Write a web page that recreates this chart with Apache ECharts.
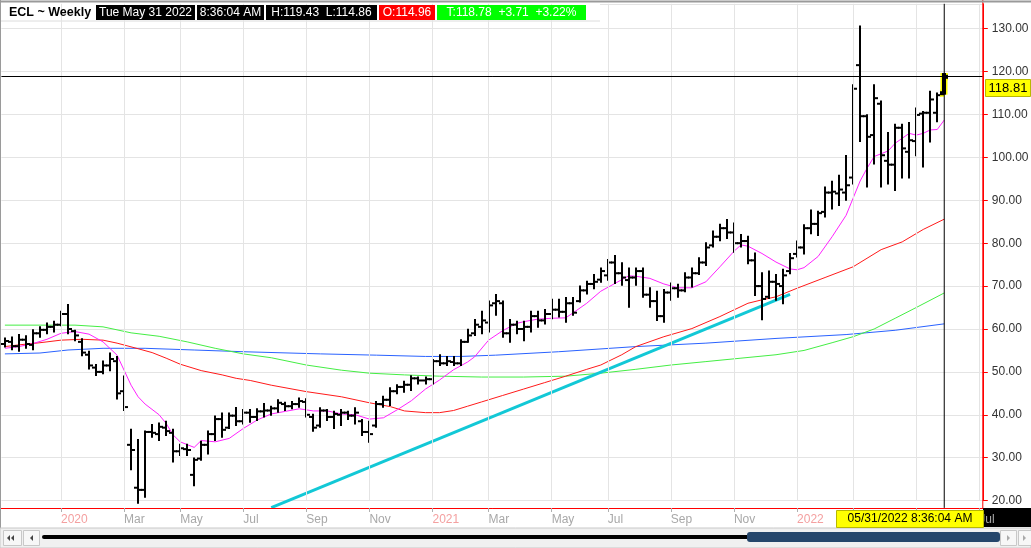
<!DOCTYPE html>
<html>
<head>
<meta charset="utf-8">
<script src="https://cdn.jsdelivr.net/npm/echarts@6/dist/echarts.min.js"></script>
<style>
  html, body { margin: 0; padding: 0; background: #fff; }
  #chart { width: 1031px; height: 548px; }
</style>
</head>
<body>
<div id="chart"></div>
<script>
// weekly bars, Friday dates (last trading day of the week); future slots run on from the last bar date
const firstWeek = '2019-11-08';
const lastBarDate = '2022-05-31';
const weekCount = 140;
const holidays = {
  '2020-04-10': '2020-04-09', '2020-07-03': '2020-07-02', '2021-01-01': '2020-12-31',
  '2021-04-02': '2021-04-01', '2022-04-15': '2022-04-14'
};

const opens = [56.5, 57.0, 56.0, 57.5, 56.3, 59.0, 59.8, 60.5, 61.0, 63.5,
  59.5, 57.0, 54.0, 51.0, 50.0, 51.5, 52.5, 45.5, 33.0, 23.0,
  22.5, 36.0, 35.5, 37.0, 35.8, 31.5, 32.0, 26.0, 29.8, 33.0,
  35.5, 39.0, 37.0, 39.8, 38.5, 40.5, 39.5, 40.8, 41.0, 41.5,
  42.5, 42.0, 42.5, 43.0, 39.5, 37.5, 41.0, 39.5, 40.0, 40.5,
  39.8, 38.5, 36.0, 37.5, 42.5, 43.5, 45.5, 46.5, 47.0, 48.5,
  48.0, 48.3, 52.5, 52.0, 52.3, 52.0, 57.0, 59.0, 60.5, 61.5,
  66.0, 66.0, 59.0, 61.0, 60.0, 60.5, 63.0, 62.0, 63.5, 64.5,
  64.0, 66.0, 66.5, 69.0, 70.5, 71.5, 72.5, 75.5, 73.0, 71.4,
  72.0, 73.5, 68.0, 66.5, 63.0, 68.5, 69.5, 69.0, 72.0, 73.0,
  75.5, 79.5, 81.5, 83.5, 82.5, 80.0, 80.5, 76.0, 70.0, 67.5,
  71.0, 70.0, 73.5, 77.5, 79.0, 83.5, 84.5, 87.3, 91.8, 91.6,
  91.8, 95.3, 121.5, 109.6, 105.2, 112.5, 99.2, 98.3, 106.9, 101.3,
  103.8, 110.2, 110.4, 110.4, 114.96];
const highs = [57.8, 58.0, 58.6, 58.3, 59.7, 60.4, 61.3, 61.7, 64.0, 65.6,
  59.6, 57.6, 54.7, 51.6, 52.4, 54.3, 53.5, 48.9, 36.5, 34.1,
  36.1, 37.6, 38.0, 38.4, 36.5, 33.0, 33.0, 29.8, 33.7, 36.1,
  39.6, 40.3, 40.3, 41.6, 41.1, 41.1, 41.3, 42.5, 41.9, 43.4,
  42.8, 43.0, 43.8, 43.6, 40.0, 41.5, 41.1, 40.7, 41.1, 40.7,
  41.5, 38.8, 38.4, 43.0, 44.2, 46.2, 46.9, 47.7, 49.0, 48.7,
  48.7, 52.8, 53.9, 53.5, 53.5, 57.4, 59.8, 62.1, 64.0, 66.4,
  67.9, 66.4, 62.1, 61.7, 61.7, 64.0, 64.0, 64.4, 66.8, 66.8,
  67.2, 67.2, 69.9, 71.0, 72.6, 74.1, 76.1, 77.0, 75.3, 74.1,
  74.1, 74.1, 69.5, 68.7, 69.1, 70.6, 70.3, 73.0, 74.1, 76.5,
  80.0, 82.7, 84.3, 85.4, 84.6, 81.9, 81.5, 77.6, 73.0, 73.4,
  72.6, 73.8, 77.5, 80.4, 84.2, 87.6, 87.3, 93.0, 94.3, 95.7,
  100.3, 116.8, 130.5, 109.8, 116.8, 113.0, 105.7, 107.6, 107.6, 108.0,
  111.4, 110.6, 115.3, 114.9, 119.43];
const lows = [55.9, 55.3, 54.9, 55.6, 55.3, 58.2, 59.0, 59.4, 60.9, 59.0,
  57.4, 53.9, 50.8, 49.3, 49.7, 50.4, 43.8, 41.1, 27.3, 19.5,
  20.9, 34.9, 34.1, 35.3, 29.1, 30.6, 30.6, 23.6, 29.5, 31.0,
  34.1, 34.9, 36.9, 37.6, 38.0, 38.4, 38.8, 39.6, 40.0, 40.7,
  41.1, 41.5, 41.9, 39.6, 36.3, 37.2, 38.8, 36.9, 37.6, 39.0,
  38.0, 35.3, 33.7, 37.2, 41.9, 42.3, 45.0, 45.4, 45.8, 47.3,
  47.3, 47.3, 51.6, 51.6, 51.6, 51.6, 57.0, 58.6, 59.0, 59.4,
  63.3, 58.2, 57.0, 59.0, 57.4, 59.4, 60.5, 61.3, 62.5, 62.9,
  61.7, 63.3, 66.4, 68.3, 69.5, 71.0, 71.5, 70.7, 70.3, 65.2,
  70.3, 67.5, 65.2, 62.1, 61.7, 66.8, 67.5, 68.8, 69.9, 72.8,
  74.9, 79.2, 80.7, 81.2, 78.0, 79.2, 75.3, 67.9, 62.3, 67.2,
  66.8, 66.0, 73.0, 76.9, 77.6, 82.3, 81.9, 86.2, 88.1, 88.9,
  90.1, 93.9, 103.8, 93.2, 98.6, 93.2, 93.9, 92.4, 95.3, 95.3,
  100.5, 97.9, 103.7, 108.4, 114.86];
const closes = [57.2, 56.0, 57.5, 56.5, 59.0, 59.8, 60.5, 61.0, 63.5, 60.0,
  58.5, 54.5, 51.5, 50.0, 51.5, 53.0, 45.0, 41.8, 31.8, 22.5,
  36.0, 35.8, 37.2, 36.2, 31.5, 32.2, 31.8, 29.5, 33.0, 35.5,
  39.0, 36.5, 39.8, 38.5, 40.5, 39.5, 40.8, 41.0, 41.5, 42.8,
  42.0, 42.5, 43.2, 40.0, 37.0, 41.0, 39.5, 40.2, 40.5, 39.8,
  40.5, 36.0, 35.5, 42.5, 43.5, 45.5, 46.5, 47.0, 48.5, 48.0,
  48.3, 52.5, 52.0, 52.5, 52.0, 57.0, 58.5, 61.0, 62.0, 65.5,
  66.5, 59.0, 61.0, 60.0, 60.5, 63.0, 62.0, 63.5, 64.5, 64.0,
  66.0, 63.8, 69.0, 70.5, 71.0, 73.5, 75.5, 73.0, 72.0, 72.0,
  73.5, 68.0, 66.5, 63.0, 68.5, 69.5, 69.0, 72.0, 73.0, 75.5,
  79.0, 81.5, 83.5, 82.5, 80.0, 80.5, 76.0, 70.0, 67.0, 71.0,
  70.5, 72.5, 76.5, 79.0, 83.5, 84.5, 87.0, 91.8, 92.0, 92.5,
  93.5, 116.0, 109.6, 104.8, 113.8, 100.5, 98.3, 106.9, 102.1, 104.0,
  109.9, 110.4, 113.5, 114.5, 118.78];

// moving averages: [week index, value]
const maPink = [[0, 55.5], [2, 55.9], [4, 56.6], [6, 57.6], [8, 59.0], [10, 59.4], [12, 58.8],
  [14, 57.0], [16, 53.9], [17, 50.4], [18, 46.9], [19, 44.2], [20, 42.5], [22, 40.0], [23, 38.0],
  [24, 35.3], [25, 33.7], [27, 32.4], [28, 34.0], [30, 33.7], [32, 34.5], [34, 36.8], [36, 38.8],
  [38, 40.2], [40, 40.8], [42, 41.4], [44, 40.9], [46, 40.9], [48, 40.2], [50, 40.0], [52, 39.0],
  [54, 39.3], [56, 41.2], [58, 43.3], [60, 46.0], [62, 48.1], [64, 50.5], [66, 52.3], [67, 53.5],
  [69, 57.4], [71, 59.6], [73, 61.3], [74, 61.7], [76, 62.3], [78, 62.5], [80, 62.6], [81, 63.7],
  [83, 66.0], [85, 68.8], [87, 70.6], [89, 72.4], [90, 72.3], [92, 71.8], [94, 70.5], [96, 69.6],
  [98, 69.6], [100, 71.0], [102, 74.5], [104, 78.1], [105, 79.6], [106, 79.3], [108, 77.6],
  [110, 75.6], [112, 74.0], [113, 73.8], [114, 74.3], [116, 76.9], [118, 81.5], [120, 86.5],
  [121, 90.5], [122, 94.5], [123, 97.5], [124, 100.2], [126, 101.5], [127, 103.3], [129, 105.6],
  [130, 105.2], [131, 105.6], [132, 106.4], [133, 106.5], [134, 108.7]];
const maRed = [[0, 55.9], [2, 56.3], [5, 56.8], [8, 57.4], [11, 57.6], [14, 57.4], [16, 56.7],
  [19, 55.4], [21, 54.5], [23, 53.2], [25, 51.8], [28, 50.3], [31, 49.3], [33, 48.5], [35, 48.0],
  [38, 46.9], [43, 45.4], [48, 44.2], [52, 42.8], [55, 41.9], [57, 40.9], [60, 40.5], [62, 40.5],
  [64, 41.0], [66, 42.0], [68, 43.0], [71, 44.5], [74, 46.0], [77, 47.5], [80, 49.0], [83, 50.6],
  [85, 51.6], [88, 54.0], [90, 55.9], [94, 58.2], [98, 60.1], [102, 62.9], [106, 66.0],
  [108, 66.8], [110, 67.5], [113, 69.5], [117, 72.0], [121, 74.5], [125, 78.5], [128, 80.3],
  [131, 83.2], [134, 85.6]];
const maGreen = [[0, 60.9], [5, 60.9], [10, 60.9], [14, 60.5], [18, 59.1], [22, 58.3], [26, 57.0],
  [30, 55.5], [34, 54.2], [38, 53.3], [43, 51.6], [48, 50.4], [52, 49.7], [57, 49.3], [62, 49.0],
  [68, 48.8], [74, 48.8], [80, 49.0], [85, 49.7], [90, 50.6], [95, 51.6], [100, 52.4], [105, 53.2],
  [110, 54.0], [114, 55.0], [118, 56.8], [121, 58.2], [124, 60.0], [127, 62.5], [130, 65.0],
  [134, 68.4]];
const maBlue = [[0, 54.2], [5, 54.4], [9, 55.1], [14, 55.5], [20, 55.5], [27, 55.1], [34, 54.7],
  [45, 54.2], [53, 53.9], [60, 53.6], [65, 53.6], [70, 53.9], [79, 54.7], [90, 55.9], [100, 56.7],
  [110, 57.8], [120, 58.7], [127, 59.7], [134, 61.2]];
const trendLine = [[38, 18.34], [112, 68.07]];
const lastPrice = 118.81;
const yTicks = { min: 20, max: 135.8, step: 10 };

const header = [
  { text: 'Tue May 31 2022', x: 96, w: 99, fill: '#000' },
  { text: '8:36:04 AM', x: 197, w: 67, fill: '#000' },
  { text: 'H:119.43  L:114.86', x: 266, w: 111, fill: '#000' },
  { text: 'O:114.96', x: 379, w: 56, fill: '#ff0000' },
  { text: 'T:118.78  +3.71  +3.22%', x: 437, w: 149, fill: '#00ff00' }
];

const lastIdx = opens.length - 1;
const day = 864e5;
const weeks = [];
const t0 = Date.parse(firstWeek + 'T00:00:00Z');
const tLast = Date.parse(lastBarDate + 'T00:00:00Z');
for (let k = 0; k < weekCount; k++) {
  let d;
  if (k < lastIdx) {
    d = new Date(t0 + k * 7 * day).toISOString().slice(0, 10);
    d = holidays[d] || d;
  } else {
    d = new Date(tLast + (k - lastIdx) * 7 * day).toISOString().slice(0, 10);
  }
  weeks.push(d);
}
const monthOf = s => +s.slice(5, 7) - 1;
const showLabel = weeks.map((d, k) => k > 0 && monthOf(d) !== monthOf(weeks[k - 1]) && monthOf(d) % 2 === 0);
const monthNames = ['Jan', 'Feb', 'Mar', 'Apr', 'May', 'Jun', 'Jul', 'Aug', 'Sep', 'Oct', 'Nov', 'Dec'];
const labelInterval = idx => showLabel[idx];

const bars = opens.map((o, k) => [k, o, highs[k], lows[k], closes[k]]);

function renderBar(params, api) {
  const k = api.value(0);
  const h = api.coord([k, api.value(2)]);
  const l = api.coord([k, api.value(3)]);
  const o = api.coord([k, api.value(1)]);
  const c = api.coord([k, api.value(4)]);
  const x = Math.round(h[0]);
  const last = params.dataIndex === lastIdx;
  const lw = last ? 4 : 2;
  const parts = [
    { type: 'line', shape: { x1: x, y1: h[1] - 1, x2: x, y2: l[1] + 1 } },
    { type: 'line', shape: { x1: x - 4, y1: o[1], x2: x, y2: o[1] } },
    { type: 'line', shape: { x1: x, y1: c[1], x2: x + 4, y2: c[1] } }
  ];
  const children = [];
  if (last) {
    parts.forEach(p => children.push({ type: 'line', shape: p.shape, style: { stroke: '#ffff00', lineWidth: 7 } }));
  }
  parts.forEach(p => children.push({ type: 'line', shape: p.shape, style: { stroke: '#000', lineWidth: lw } }));
  return { type: 'group', children: children };
}

function maSeries(data, color) {
  return {
    type: 'line', data: data, symbol: 'none', silent: true, z: 2,
    lineStyle: { color: color, width: 1 }
  };
}

const font = 'Liberation Sans, Arial, sans-serif';
const graphics = [
  { type: 'rect', z: 1, shape: { x: 0, y: 0, width: 600, height: 21 }, style: { fill: '#fff' } },
  { type: 'line', z: 1, shape: { x1: 0, y1: 21, x2: 600, y2: 21 }, style: { stroke: '#dcdcdc', lineWidth: 1 } },
  { type: 'line', z: 20, shape: { x1: 0, y1: 1.5, x2: 1031, y2: 1.5 }, style: { stroke: '#9a9a9a', lineWidth: 2 } },
  { type: 'line', z: 20, shape: { x1: 0.5, y1: 0, x2: 0.5, y2: 528 }, style: { stroke: '#9a9a9a', lineWidth: 1 } },
  { type: 'line', z: 6, shape: { x1: 982.8, y1: 0, x2: 982.8, y2: 508 }, style: { stroke: '#ff0000', lineWidth: 1 } },
  { type: 'text', z: 20, left: 9, top: 6, style: { text: 'ECL ~ Weekly', font: 'bold 12.5px ' + font, fill: '#000' } },
  // bottom date box and corner
  { type: 'rect', z: 1, shape: { x: 983, y: 508, width: 48, height: 19 }, style: { fill: '#000' } },
  { type: 'rect', z: 30, shape: { x: 836.5, y: 510.5, width: 147, height: 17 }, style: { fill: '#ffff00', stroke: '#b8b800', lineWidth: 1 } },
  { type: 'text', z: 31, x: 910, y: 519, style: { text: '05/31/2022 8:36:04 AM', font: '12px ' + font, fill: '#000', align: 'center', verticalAlign: 'middle' } },
  // price label
  { type: 'rect', z: 30, shape: { x: 985.5, y: 79.5, width: 45, height: 17 }, style: { fill: '#ffff00', stroke: '#b8b800', lineWidth: 1 } },
  { type: 'text', z: 31, x: 1008, y: 88.5, style: { text: lastPrice.toFixed(2), font: '13px ' + font, fill: '#000', align: 'center', verticalAlign: 'middle' } },
  // scrollbar
  { type: 'rect', z: 20, shape: { x: 0, y: 528, width: 1031, height: 20 }, style: { fill: '#f0f0f0', stroke: '#c8c8c8', lineWidth: 1 } },
  { type: 'rect', z: 21, shape: { x: 3.5, y: 530.5, width: 18, height: 15 }, style: { fill: '#f7f7f7', stroke: '#c8c8c8' } },
  { type: 'rect', z: 21, shape: { x: 23.5, y: 530.5, width: 16, height: 15 }, style: { fill: '#f7f7f7', stroke: '#c8c8c8' } },
  { type: 'rect', z: 21, shape: { x: 1000.5, y: 530.5, width: 16, height: 15 }, style: { fill: '#f7f7f7', stroke: '#c8c8c8' } },
  { type: 'rect', z: 21, shape: { x: 1018.5, y: 530.5, width: 13, height: 15 }, style: { fill: '#f7f7f7', stroke: '#c8c8c8' } },
  { type: 'polygon', z: 22, shape: { points: [[10, 535], [10, 541], [7, 538]] }, style: { fill: '#444' } },
  { type: 'polygon', z: 22, shape: { points: [[14, 535], [14, 541], [11, 538]] }, style: { fill: '#444' } },
  { type: 'polygon', z: 22, shape: { points: [[33, 535], [33, 541], [30, 538]] }, style: { fill: '#444' } },
  { type: 'polygon', z: 22, shape: { points: [[1007, 535], [1007, 541], [1010, 538]] }, style: { fill: '#aaa' } },
  { type: 'polygon', z: 22, shape: { points: [[1023, 535], [1023, 541], [1026, 538]] }, style: { fill: '#aaa' } },
  { type: 'line', z: 21, shape: { x1: 44, y1: 537, x2: 760, y2: 537 }, style: { stroke: '#000', lineWidth: 4, lineCap: 'round' } },
  { type: 'rect', z: 22, shape: { x: 747, y: 532, width: 253, height: 10, r: 3 }, style: { fill: '#25466b' } }
];
header.forEach(b => {
  graphics.push({ type: 'rect', z: 20, shape: { x: b.x, y: 5, width: b.w, height: 15 }, style: { fill: b.fill } });
  graphics.push({ type: 'text', z: 21, x: b.x + b.w / 2, y: 12.8, style: { text: b.text, font: '12px ' + font, fill: '#fff', align: 'center', verticalAlign: 'middle' } });
});

const option = {
  animation: false,
  backgroundColor: '#fff',
  grid: { left: 1.4, right: 48.2, top: 3.8, bottom: 47.4, outerBoundsMode: 'none', containLabel: false },
  xAxis: {
    type: 'category', data: weeks, boundaryGap: true, offset: 7.4, z: 5,
    axisLine: { show: true, lineStyle: { color: '#ff0000', width: 1 } },
    axisTick: { show: true, interval: labelInterval, alignWithLabel: true, length: 4, lineStyle: { color: '#b0b0b0' } },
    axisLabel: {
      show: true, interval: labelInterval, align: 'left', margin: 6,
      fontFamily: 'Liberation Sans Narrow, Liberation Sans, Arial', fontSize: 12, color: '#a8a8a8',
      formatter: v => monthOf(v) === 0 ? '{y|' + v.slice(0, 4) + '}' : monthNames[monthOf(v)],
      rich: { y: { color: '#f4a0a0', fontSize: 12, fontFamily: 'Liberation Sans Narrow, Liberation Sans, Arial' } }
    },
    splitLine: { show: true, interval: labelInterval, alignWithLabel: true, lineStyle: { color: '#e4e4e4', width: 1 } }
  },
  yAxis: {
    type: 'value', position: 'right', min: yTicks.min, max: yTicks.max, interval: yTicks.step, scale: true,
    axisLine: { show: true, lineStyle: { color: '#ff0000', width: 1 } },
    axisTick: { show: true, length: 5, lineStyle: { color: '#ff0000' } },
    axisLabel: { show: true, margin: 9, showMaxLabel: false, formatter: v => v.toFixed(2), color: '#333', fontSize: 12, fontFamily: font },
    splitLine: { show: true, lineStyle: { color: '#e4e4e4', width: 1 } }
  },
  graphic: graphics,
  series: [
    maSeries(maBlue, '#2a62ff'),
    maSeries(maGreen, '#44ee44'),
    maSeries(maRed, '#ff1a1a'),
    {
      type: 'line', data: trendLine, symbol: 'none', silent: true, clip: false, z: 2,
      lineStyle: { color: '#12c8d6', width: 3 }
    },
    maSeries(maPink, '#ff22ff'),
    {
      type: 'custom', data: bars, renderItem: renderBar, clip: false, z: 3, silent: true,
      encode: { x: 0, y: [1, 2, 3, 4] }
    },
    {
      type: 'line', data: [[lastIdx, 18.3], [lastIdx, 135.8]], symbol: 'none', silent: true, clip: false, z: 4,
      lineStyle: { color: '#000', width: 1 },
      markLine: {
        silent: true, symbol: 'none', label: { show: false },
        lineStyle: { color: '#000', width: 1, type: 'solid' },
        data: [{ yAxis: lastPrice }]
      }
    }
  ]
};

const chart = echarts.init(document.getElementById('chart'));
chart.setOption(option);
</script>
</body>
</html>
